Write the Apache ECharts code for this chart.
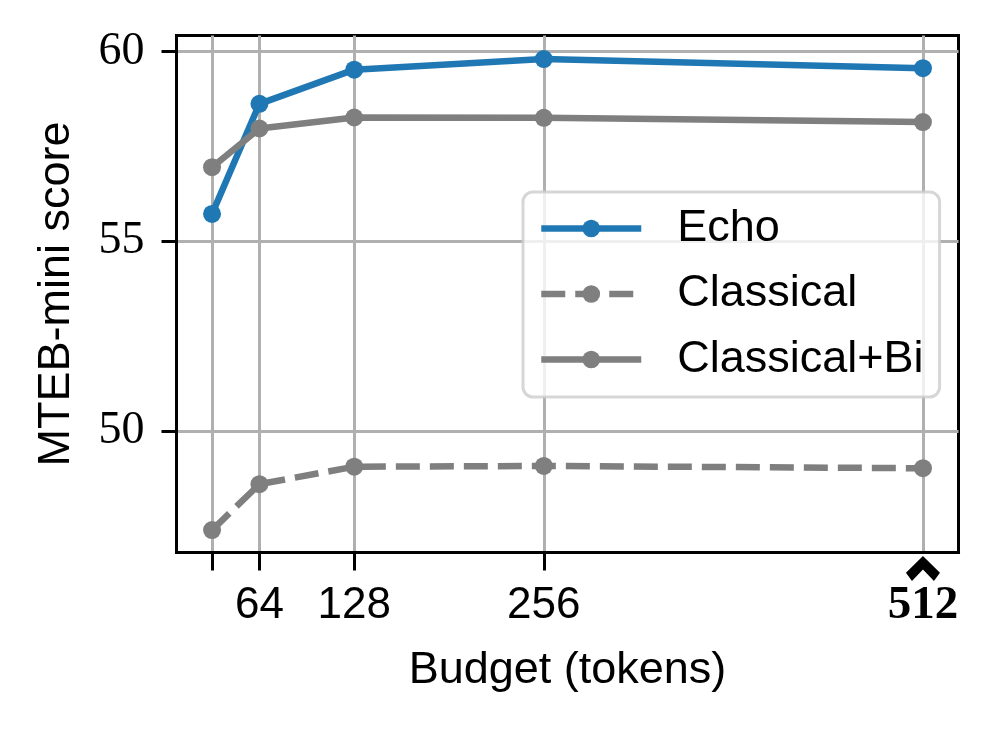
<!DOCTYPE html>
<html>
<head>
<meta charset="utf-8">
<script src="https://cdn.jsdelivr.net/npm/echarts@6/dist/echarts.min.js"></script>
<style>html,body{margin:0;padding:0;background:#fff;}#c{width:997px;height:730px;}</style>
</head>
<body>
<div id="c"></div>
<script>
const budgets = [32, 64, 128, 256, 512];
const echo = [55.72, 58.62, 59.52, 59.80, 59.56];
const classical = [47.39, 48.60, 49.06, 49.08, 49.02];
const classicalBi = [56.95, 57.97, 58.26, 58.25, 58.14];
const xTickValues = [32, 64, 128, 256];
const xLabelValues = [64, 128, 256, 512];
const yTickValues = [50, 55, 60];
const highlightBudget = 512;
const xMin = 8, xMax = 536, yMin = 46.8, yMax = 60.42;

const pairs = arr => budgets.map((b, i) => [b, arr[i]]);
const sans = 'Liberation Sans';
const serif = 'Liberation Serif';

const chart = echarts.init(document.getElementById('c'), null, {renderer: 'canvas'});
chart.setOption({
  animation: false,
  backgroundColor: '#fff',
  grid: {left: 176.5, right: 38.5, top: 35.5, bottom: 177.5, show: true, borderColor: '#000', borderWidth: 3, backgroundColor: 'transparent'},
  xAxis: [{
    type: 'value', min: xMin, max: xMax,
    name: 'Budget (tokens)', nameLocation: 'middle', nameGap: 96,
    nameTextStyle: {fontFamily: sans, fontSize: 45, color: '#000', lineHeight: 45},
    axisLine: {show: true, lineStyle: {color: '#000', width: 3}},
    axisTick: {show: false, customValues: budgets},
    splitLine: {show: true, lineStyle: {color: '#b0b0b0', width: 3}},
    axisLabel: {
      customValues: xLabelValues, margin: 31,
      formatter: v => v === highlightBudget ? '{b|' + v + '}' : '{a|' + v + '}',
      rich: {
        a: {fontFamily: sans, fontSize: 44, color: '#000', lineHeight: 44},
        b: {fontFamily: serif, fontSize: 47, fontWeight: 'bold', color: '#000', lineHeight: 44}
      }
    }
  }, {
    type: 'value', min: xMin, max: xMax, position: 'bottom',
    axisLine: {show: false},
    axisTick: {show: true, customValues: xTickValues, length: 18, lineStyle: {color: '#000', width: 3}},
    splitLine: {show: false},
    axisLabel: {show: false}
  }],
  yAxis: {
    type: 'value', min: yMin, max: yMax,
    name: 'MTEB-mini score', nameLocation: 'middle', nameGap: 97, nameRotate: 90,
    nameTextStyle: {fontFamily: sans, fontSize: 45, color: '#000', lineHeight: 45},
    axisLine: {show: true, lineStyle: {color: '#000', width: 3}},
    axisTick: {show: true, customValues: yTickValues, length: 15, lineStyle: {color: '#000', width: 3}},
    splitLine: {show: true, lineStyle: {color: '#b0b0b0', width: 3}},
    axisLabel: {customValues: yTickValues, margin: 32, fontFamily: serif, fontSize: 46, color: '#000'}
  },
  legend: {
    orient: 'vertical', left: 523, top: 192,
    data: ['Echo', 'Classical', 'Classical+Bi'],
    itemWidth: 100, itemHeight: 22, itemGap: 20.5,
    padding: [14, 16, 15, 15],
    lineStyle: {width: 6.5},
    backgroundColor: 'rgba(255,255,255,0.8)', borderColor: 'rgba(204,204,204,0.8)', borderWidth: 3, borderRadius: 10,
    textStyle: {fontFamily: sans, fontSize: 45, color: '#000', lineHeight: 45, padding: [0, 0, 0, 31]}
  },
  series: [{
    name: 'Echo', type: 'line', data: pairs(echo),
    symbol: 'circle', symbolSize: 18, color: '#1f77b4',
    lineStyle: {width: 6.5, color: '#1f77b4'}, itemStyle: {color: '#1f77b4'}
  }, {
    name: 'Classical', type: 'line', data: pairs(classical),
    symbol: 'circle', symbolSize: 18, color: '#7f7f7f',
    lineStyle: {width: 6.5, color: '#7f7f7f', type: [24, 10]}, itemStyle: {color: '#7f7f7f'}
  }, {
    name: 'Classical+Bi', type: 'line', data: pairs(classicalBi),
    symbol: 'circle', symbolSize: 18, color: '#7f7f7f',
    lineStyle: {width: 6.5, color: '#7f7f7f'}, itemStyle: {color: '#7f7f7f'}
  }, {
    name: 'highlight', type: 'scatter', clip: false, silent: true,
    data: [[highlightBudget, yMin]],
    symbol: 'path://M17,0 L34,16 L28,24 L17,13 L6,24 L0,16 Z',
    symbolSize: [34, 25], symbolOffset: [0, 16],
    itemStyle: {color: '#000', opacity: 1}, z: 5
  }]
});
</script>
</body>
</html>
